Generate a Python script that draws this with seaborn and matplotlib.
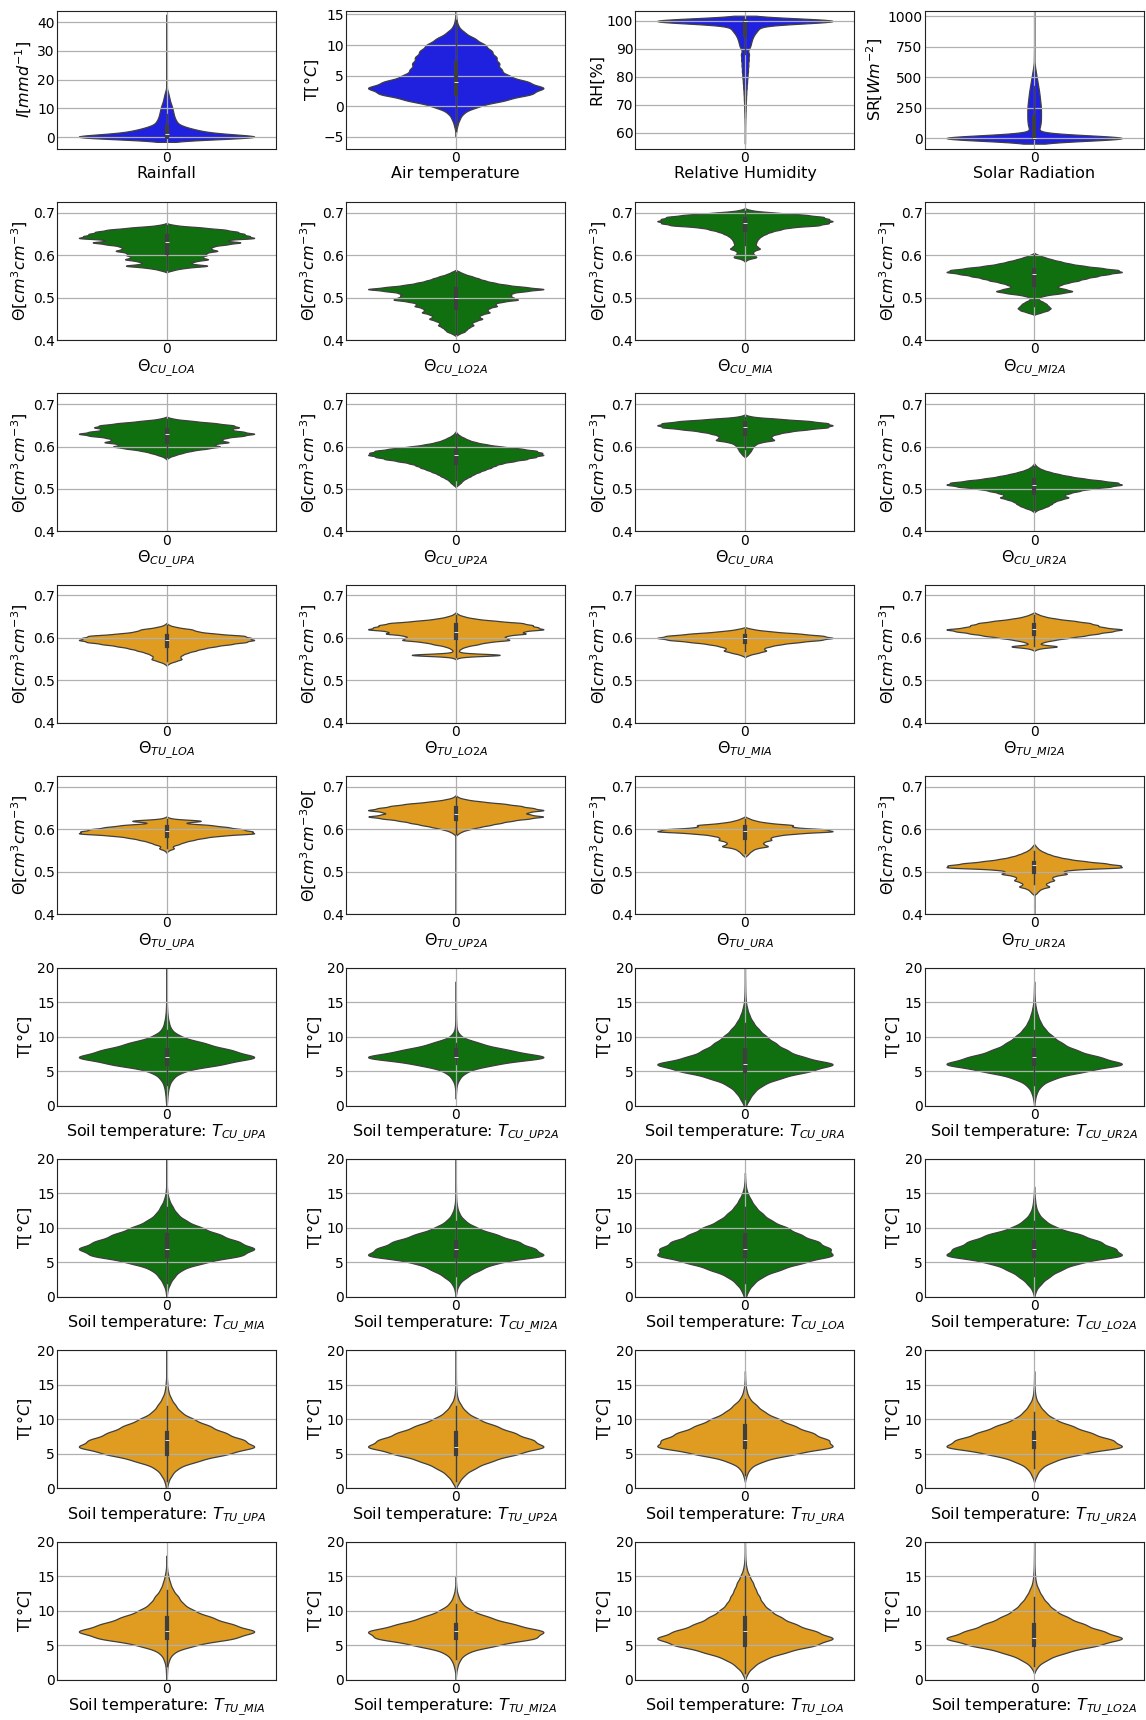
import numpy as np
import pandas as pd
import matplotlib
matplotlib.use("Agg")
import matplotlib.pyplot as plt
import seaborn as sns

# Row 1: meteorological variables
rain_values = [0, 0.5, 1, 1.5, 2, 2.5, 3, 3.5, 4, 5, 6, 7, 8, 9, 10, 11, 12, 13, 14, 15, 16, 18, 20, 23, 26, 29, 32, 35, 38, 41]
rain_counts = [200, 40, 38, 33, 29, 24, 18, 14, 16, 17, 14, 12, 11, 10, 9, 8, 6, 5, 4, 3, 2, 1, 1, 1, 1, 1, 1, 1, 1, 1]

air_values = [-4, -3, -2, -1, 0, 1, 2, 3, 4, 5, 6, 7, 8, 9, 10, 11, 12, 13, 14, 15]
air_counts = [5, 20, 45, 90, 250, 550, 850, 1000, 800, 580, 500, 480, 450, 400, 330, 220, 100, 30, 10, 3]

rh_values = [100, 99, 98, 97, 96, 95, 94, 93, 92, 91, 90, 88, 86, 84, 82, 80, 78, 76, 74, 72, 70, 68, 66, 64, 62, 60, 58]
rh_counts = [1000, 120, 70, 80, 60, 50, 42, 37, 33, 30, 27, 44, 40, 36, 32, 28, 22, 18, 14, 11, 9, 7, 5, 3, 2, 1, 1]

sr_values = [0, 10, 20, 30, 40, 50, 75, 100, 125, 150, 175, 200, 225, 250, 275, 300, 325, 350, 375, 400,
             425, 450, 475, 500, 525, 550, 575, 600, 650, 700, 750, 800, 850, 900, 950, 1000]
sr_counts = [1000, 100, 40, 20, 12, 10, 30, 36, 38, 40, 40, 40, 40, 40, 38, 36, 34, 32, 30, 27,
             24, 21, 18, 15, 12, 9, 6, 4, 3, 2, 1, 1, 1, 1, 1, 1]

# Rows 2-5: soil moisture
cu_loa_v = [0.670, 0.665, 0.660, 0.655, 0.650, 0.645, 0.640, 0.635, 0.630, 0.625, 0.620, 0.615, 0.610, 0.605, 0.600, 0.595, 0.590, 0.585, 0.580, 0.575, 0.570, 0.565]
cu_loa_c = [10, 40, 65, 78, 85, 90, 100, 60, 85, 65, 50, 48, 58, 42, 45, 38, 48, 30, 25, 50, 20, 8]

cu_lo2a_v = [0.560, 0.555, 0.550, 0.545, 0.540, 0.535, 0.530, 0.525, 0.520, 0.515, 0.510, 0.505, 0.500, 0.495, 0.490,
             0.485, 0.480, 0.475, 0.470, 0.465, 0.460, 0.455, 0.450, 0.445, 0.440, 0.435, 0.430, 0.425, 0.420, 0.415]
cu_lo2a_c = [5, 10, 18, 25, 32, 42, 55, 75, 100, 75, 60, 60, 62, 70, 50, 42, 46, 36, 34, 38, 28, 25, 30, 22, 17, 20, 15, 12, 10, 4]

cu_mia_v = [0.705, 0.700, 0.695, 0.690, 0.685, 0.680, 0.675, 0.670, 0.665, 0.660, 0.655, 0.650, 0.645, 0.640, 0.635,
            0.630, 0.625, 0.620, 0.615, 0.610, 0.605, 0.600, 0.595, 0.590]
cu_mia_c = [8, 35, 70, 90, 95, 100, 95, 85, 50, 40, 30, 24, 19, 16, 14, 13, 12, 14, 18, 10, 9, 11, 14, 3]

cu_mi2a_v = [0.600, 0.595, 0.590, 0.585, 0.580, 0.575, 0.570, 0.565, 0.560, 0.555, 0.550, 0.545, 0.540, 0.535,
             0.530, 0.525, 0.520, 0.515, 0.510, 0.505, 0.500, 0.495, 0.490, 0.485, 0.480, 0.475, 0.470, 0.465]
cu_mi2a_c = [5, 12, 20, 30, 40, 55, 75, 95, 100, 82, 70, 58, 50, 38, 30, 25, 35, 45, 30, 12, 5, 5, 10, 14, 16, 19, 16, 8]

cu_upa_v = [0.665, 0.660, 0.655, 0.650, 0.645, 0.640, 0.635, 0.630, 0.625, 0.620, 0.615, 0.610, 0.605, 0.600, 0.595, 0.590, 0.585, 0.580, 0.575]
cu_upa_c = [8, 30, 55, 75, 82, 70, 85, 100, 85, 65, 60, 72, 50, 62, 45, 28, 18, 10, 3]

cu_up2a_v = [0.630, 0.625, 0.620, 0.615, 0.610, 0.605, 0.600, 0.595, 0.590, 0.585, 0.580, 0.575, 0.570, 0.565, 0.560,
             0.555, 0.550, 0.545, 0.540, 0.535, 0.530, 0.525, 0.520, 0.515, 0.510]
cu_up2a_c = [2, 5, 10, 15, 23, 35, 52, 75, 92, 98, 100, 90, 80, 65, 52, 45, 40, 33, 27, 21, 17, 12, 8, 6, 3]

cu_ura_v = [0.670, 0.665, 0.660, 0.655, 0.650, 0.645, 0.640, 0.635, 0.630, 0.625, 0.620, 0.615, 0.610, 0.605, 0.600, 0.595, 0.590, 0.585, 0.580]
cu_ura_c = [8, 40, 75, 95, 100, 95, 70, 50, 38, 30, 30, 35, 18, 12, 10, 8, 7, 5, 3]

cu_ur2a_v = [0.555, 0.550, 0.545, 0.540, 0.535, 0.530, 0.525, 0.520, 0.515, 0.510, 0.505, 0.500, 0.495, 0.490, 0.485,
             0.480, 0.475, 0.470, 0.465, 0.460, 0.455, 0.450]
cu_ur2a_c = [2, 5, 10, 18, 28, 40, 55, 75, 95, 100, 85, 62, 50, 40, 33, 40, 30, 23, 20, 16, 10, 3]

tu_loa_v = [0.630, 0.625, 0.620, 0.615, 0.610, 0.605, 0.600, 0.595, 0.590, 0.585, 0.580, 0.575, 0.570, 0.565, 0.560, 0.555, 0.550, 0.545, 0.540]
tu_loa_c = [3, 12, 30, 35, 55, 90, 95, 100, 90, 72, 55, 42, 33, 24, 18, 15, 18, 10, 3]

tu_lo2a_v = [0.655, 0.650, 0.645, 0.640, 0.635, 0.630, 0.625, 0.620, 0.615, 0.610, 0.605, 0.600, 0.595, 0.590, 0.585,
             0.580, 0.575, 0.570, 0.565, 0.560, 0.555]
tu_lo2a_c = [3, 10, 22, 45, 75, 85, 90, 100, 72, 80, 55, 55, 62, 35, 25, 12, 6, 3, 5, 60, 5]

tu_mia_v = [0.620, 0.615, 0.610, 0.605, 0.600, 0.595, 0.590, 0.585, 0.580, 0.575, 0.570, 0.565, 0.560]
tu_mia_c = [10, 30, 62, 88, 100, 85, 60, 40, 28, 20, 25, 15, 5]

tu_mi2a_v = [0.655, 0.650, 0.645, 0.640, 0.635, 0.630, 0.625, 0.620, 0.615, 0.610, 0.605, 0.600, 0.595, 0.590, 0.585, 0.580, 0.575]
tu_mi2a_c = [5, 12, 25, 45, 62, 70, 75, 100, 85, 70, 55, 38, 22, 10, 5, 30, 5]

tu_upa_v = [0.625, 0.620, 0.615, 0.610, 0.605, 0.600, 0.595, 0.590, 0.585, 0.580, 0.575, 0.570, 0.565, 0.560, 0.555, 0.550]
tu_upa_c = [5, 45, 15, 50, 68, 85, 95, 100, 60, 42, 30, 20, 14, 6, 9, 2]

tu_up2a_v = [0.675, 0.670, 0.665, 0.660, 0.655, 0.650, 0.645, 0.640, 0.635, 0.630, 0.625, 0.620, 0.615, 0.610, 0.605,
             0.600, 0.595, 0.590, 0.500, 0.450, 0.400, 0.350]
tu_up2a_c = [30, 120, 300, 550, 720, 850, 1000, 780, 800, 1000, 800, 620, 500, 380, 260, 150, 70, 30, 1, 1, 1, 1]

tu_ura_v = [0.625, 0.620, 0.615, 0.610, 0.605, 0.600, 0.595, 0.590, 0.585, 0.580, 0.575, 0.570, 0.565, 0.560, 0.555, 0.550, 0.545, 0.540]
tu_ura_c = [5, 12, 25, 55, 50, 90, 100, 55, 35, 27, 30, 20, 20, 27, 12, 8, 5, 3]

tu_ur2a_v = [0.560, 0.555, 0.550, 0.545, 0.540, 0.535, 0.530, 0.525, 0.520, 0.515, 0.510, 0.505, 0.500, 0.495, 0.490,
             0.485, 0.480, 0.475, 0.470, 0.465, 0.460, 0.455, 0.450, 0.420, 0.390, 0.360]
tu_ur2a_c = [20, 40, 70, 120, 180, 260, 380, 550, 780, 950, 1000, 400, 300, 380, 220, 190, 230, 150, 120, 180, 80, 50, 30, 1, 1, 1]

# Rows 6-9: soil temperature, counts per 1 degC level
t_levels = [0, 1, 2, 3, 4, 5, 6, 7, 8, 9, 10, 11, 12, 13, 14, 15, 16, 17, 18, 19, 20, 21]
t_cu_upa  = [3, 8, 15, 30, 70, 180, 600, 1000, 700, 420, 150, 50, 25, 12, 6, 4, 3, 2, 2, 1, 0, 0]
t_cu_up2a = [0, 0, 3, 10, 40, 120, 400, 1000, 550, 250, 50, 10, 5, 3, 2, 2, 1, 1, 0, 0, 0, 0]
t_cu_ura  = [10, 50, 100, 190, 380, 700, 1000, 620, 450, 330, 230, 150, 90, 50, 25, 10, 5, 3, 2, 1, 1, 0]
t_cu_ur2a = [0, 10, 30, 80, 220, 550, 1000, 700, 450, 300, 200, 120, 70, 40, 20, 8, 4, 2, 0, 0, 0, 0]
t_cu_mia  = [2, 10, 40, 90, 170, 420, 850, 1000, 800, 600, 400, 220, 120, 70, 30, 10, 4, 2, 2, 1, 1, 1]
t_cu_mi2a = [0, 10, 40, 130, 270, 450, 1000, 850, 680, 450, 230, 100, 40, 15, 6, 3, 2, 1, 1, 1, 1, 0]
t_cu_loa  = [10, 40, 100, 200, 400, 650, 1000, 950, 820, 620, 480, 300, 200, 120, 70, 30, 10, 3, 0, 0, 0, 0]
t_cu_lo2a = [0, 20, 80, 170, 300, 500, 1000, 880, 720, 520, 250, 120, 50, 20, 10, 3, 0, 0, 0, 0, 0, 0]
t_tu_upa  = [5, 20, 60, 130, 350, 680, 1000, 850, 650, 480, 300, 160, 100, 50, 20, 10, 4, 2, 2, 1, 1, 1]
t_tu_up2a = [0, 40, 100, 220, 400, 680, 1000, 850, 650, 450, 250, 120, 60, 20, 8, 4, 2, 2, 1, 1, 0, 0]
t_tu_ura  = [0, 0, 20, 60, 200, 550, 1000, 920, 750, 550, 380, 220, 130, 50, 20, 6, 2, 0, 0, 0, 0, 0]
t_tu_ur2a = [0, 0, 30, 80, 220, 500, 1000, 850, 620, 420, 220, 120, 60, 20, 8, 3, 1, 0, 0, 0, 0, 0]
t_tu_mia  = [3, 5, 10, 30, 80, 300, 750, 1000, 720, 500, 300, 180, 130, 70, 40, 20, 6, 2, 0, 0, 0, 0]
t_tu_mi2a = [0, 5, 20, 50, 130, 450, 900, 1000, 650, 380, 180, 70, 30, 10, 3, 0, 0, 0, 0, 0, 0, 0]
t_tu_loa  = [0, 30, 100, 220, 450, 780, 1000, 780, 560, 400, 280, 200, 160, 120, 90, 50, 20, 8, 3, 2, 0, 0]
t_tu_lo2a = [0, 0, 40, 150, 350, 700, 1000, 750, 550, 370, 230, 150, 90, 50, 20, 10, 5, 3, 2, 1, 0, 0]

# ---------------- axis ticks ----------------
rain_ticks = [0, 10, 20, 30, 40]
air_ticks = [-5, 0, 5, 10, 15]
rh_ticks = [60, 70, 80, 90, 100]
sr_ticks = [0, 250, 500, 750, 1000]
theta_ticks = [0.4, 0.5, 0.6, 0.7]
soil_t_ticks = [0, 5, 10, 15, 20]

THETA_Y = r"$\Theta[cm^3cm^{-3}]$"
TEMP_Y = r"T[$\degree C$]"
TH = ((0.4, 0.725), theta_ticks)
ST = ((0, 20), soil_t_ticks)

panels = [
    # (values, counts, colour, kernel sd, ylabel, xlabel, (ylim, yticks))
    (rain_values, rain_counts, "blue", 0.8, r"$I[mmd^{-1}]$", "Rainfall", ((-3.95, 43.95), rain_ticks)),
    (air_values, air_counts, "blue", 0.5, TEMP_Y, "Air temperature", ((-6.9, 15.6), air_ticks)),
    (rh_values, rh_counts, "blue", 0.9, "RH[%]", "Relative Humidity", ((54.4, 103.6), rh_ticks)),
    (sr_values, sr_counts, "blue", 22, r"SR[$Wm^{-2}$]", "Solar Radiation", ((-85, 1044), sr_ticks)),

    (cu_loa_v, cu_loa_c, "green", 0.0025, THETA_Y, r"$\Theta_{CU\_LOA}$", TH),
    (cu_lo2a_v, cu_lo2a_c, "green", 0.0025, THETA_Y, r"$\Theta_{CU\_LO2A}$", TH),
    (cu_mia_v, cu_mia_c, "green", 0.0025, THETA_Y, r"$\Theta_{CU\_MIA}$", TH),
    (cu_mi2a_v, cu_mi2a_c, "green", 0.0025, THETA_Y, r"$\Theta_{CU\_MI2A}$", TH),

    (cu_upa_v, cu_upa_c, "green", 0.0025, THETA_Y, r"$\Theta_{CU\_UPA}$", TH),
    (cu_up2a_v, cu_up2a_c, "green", 0.0025, THETA_Y, r"$\Theta_{CU\_UP2A}$", TH),
    (cu_ura_v, cu_ura_c, "green", 0.0025, THETA_Y, r"$\Theta_{CU\_URA}$", TH),
    (cu_ur2a_v, cu_ur2a_c, "green", 0.0025, THETA_Y, r"$\Theta_{CU\_UR2A}$", TH),

    (tu_loa_v, tu_loa_c, "orange", 0.0025, THETA_Y, r"$\Theta_{TU\_LOA}$", TH),
    (tu_lo2a_v, tu_lo2a_c, "orange", 0.0025, THETA_Y, r"$\Theta_{TU\_LO2A}$", TH),
    (tu_mia_v, tu_mia_c, "orange", 0.0025, THETA_Y, r"$\Theta_{TU\_MIA}$", TH),
    (tu_mi2a_v, tu_mi2a_c, "orange", 0.0025, THETA_Y, r"$\Theta_{TU\_MI2A}$", TH),

    (tu_upa_v, tu_upa_c, "orange", 0.0025, THETA_Y, r"$\Theta_{TU\_UPA}$", TH),
    (tu_up2a_v, tu_up2a_c, "orange", 0.0025, r"$\Theta[cm^3cm^{-3}\Theta[$", r"$\Theta_{TU\_UP2A}$", TH),
    (tu_ura_v, tu_ura_c, "orange", 0.0025, THETA_Y, r"$\Theta_{TU\_URA}$", TH),
    (tu_ur2a_v, tu_ur2a_c, "orange", 0.0025, THETA_Y, r"$\Theta_{TU\_UR2A}$", TH),

    (t_levels, t_cu_upa, "green", 0.5, TEMP_Y, r"Soil temperature: $T_{CU\_UPA}$", ST),
    (t_levels, t_cu_up2a, "green", 0.5, TEMP_Y, r"Soil temperature: $T_{CU\_UP2A}$", ST),
    (t_levels, t_cu_ura, "green", 0.5, TEMP_Y, r"Soil temperature: $T_{CU\_URA}$", ST),
    (t_levels, t_cu_ur2a, "green", 0.5, TEMP_Y, r"Soil temperature: $T_{CU\_UR2A}$", ST),

    (t_levels, t_cu_mia, "green", 0.5, TEMP_Y, r"Soil temperature: $T_{CU\_MIA}$", ST),
    (t_levels, t_cu_mi2a, "green", 0.5, TEMP_Y, r"Soil temperature: $T_{CU\_MI2A}$", ST),
    (t_levels, t_cu_loa, "green", 0.5, TEMP_Y, r"Soil temperature: $T_{CU\_LOA}$", ST),
    (t_levels, t_cu_lo2a, "green", 0.5, TEMP_Y, r"Soil temperature: $T_{CU\_LO2A}$", ST),

    (t_levels, t_tu_upa, "orange", 0.5, TEMP_Y, r"Soil temperature: $T_{TU\_UPA}$", ST),
    (t_levels, t_tu_up2a, "orange", 0.5, TEMP_Y, r"Soil temperature: $T_{TU\_UP2A}$", ST),
    (t_levels, t_tu_ura, "orange", 0.5, TEMP_Y, r"Soil temperature: $T_{TU\_URA}$", ST),
    (t_levels, t_tu_ur2a, "orange", 0.5, TEMP_Y, r"Soil temperature: $T_{TU\_UR2A}$", ST),

    (t_levels, t_tu_mia, "orange", 0.5, TEMP_Y, r"Soil temperature: $T_{TU\_MIA}$", ST),
    (t_levels, t_tu_mi2a, "orange", 0.5, TEMP_Y, r"Soil temperature: $T_{TU\_MI2A}$", ST),
    (t_levels, t_tu_loa, "orange", 0.5, TEMP_Y, r"Soil temperature: $T_{TU\_LOA}$", ST),
    (t_levels, t_tu_lo2a, "orange", 0.5, TEMP_Y, r"Soil temperature: $T_{TU\_LO2A}$", ST),
]

fig, axes = plt.subplots(9, 4, figsize=(11.46, 17.2), dpi=100)
fig.subplots_adjust(left=0.0497, right=0.998, top=0.9938, bottom=0.0234,
                    wspace=0.32, hspace=0.387)

for ax, (vals, cnts, col, sd, ylab, xlab, (ylim, yticks)) in zip(axes.flat, panels):
    obs = np.repeat(np.asarray(vals, dtype=float), np.asarray(cnts, dtype=int))
    df = pd.DataFrame({0: obs})
    bw = sd / obs.std(ddof=1)
    sns.violinplot(data=df, color=col, bw_method=bw, gridsize=600,
                   linewidth=0.9, inner_kws=dict(box_width=3, whis_width=1.0),
                   ax=ax)
    ax.set_ylim(*ylim)
    ax.set_yticks(yticks)
    ax.grid(True, color="#b0b0b0", linewidth=0.9)
    ax.set_xlabel(xlab, fontsize=11.5, labelpad=1)
    ax.set_ylabel(ylab, fontsize=11.5, labelpad=2)
    ax.tick_params(length=0, labelsize=10, pad=1.5)
    for s in ax.spines.values():
        s.set_color("#222222")

fig.savefig("out.png", dpi=100)
